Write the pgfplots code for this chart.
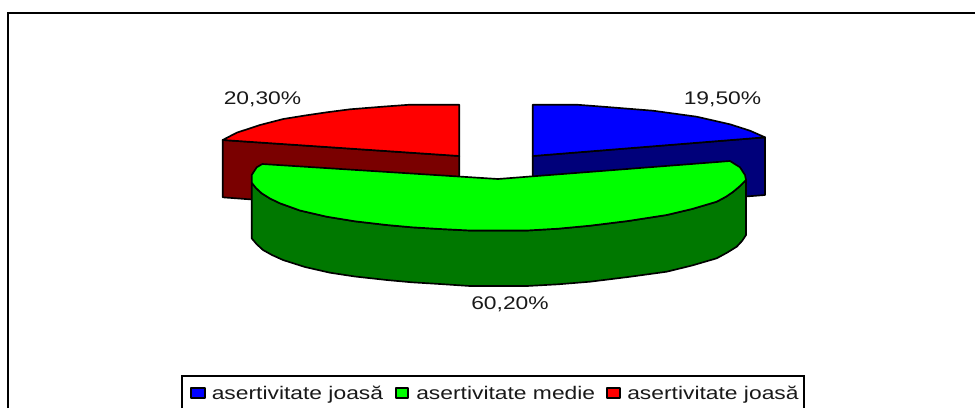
\documentclass[border=0pt]{standalone}
\usepackage{fontspec}
\setmainfont{Liberation Sans}
\usepackage{pgfplots}
\pgfplotsset{compat=1.18}
\definecolor{darkred}{HTML}{7A0000}
\definecolor{darkblue}{HTML}{00007A}
\definecolor{darkgreen}{HTML}{007800}
% Labels are set wide, as on a slide stretched sideways
\newcommand\wide[1]{\scalebox{1.25}[1]{#1}}
\tikzset{
  pie/.style={draw=black, line width=1.25pt, line join=round},
  lab/.style={anchor=base west, inner sep=0pt, text=black!90, font=\fontsize{13.7pt}{15pt}\selectfont},
}
\begin{document}
\begin{tikzpicture}
\useasboundingbox (0,0) rectangle (731.25pt,306pt);
\begin{axis}[
  at={(0,0)}, anchor=south west,
  scale only axis, width=731.25pt, height=306pt,
  xmin=0, xmax=975, ymin=0, ymax=408, y dir=reverse,
  hide axis,
]
% chart frame: top and left edges
\addplot[black, line width=1.5pt] coordinates {(8,408) (8,13) (975,13)};

% red sector, 20,30%
\addplot[pie, fill=darkred] coordinates {(222.7,140) (459.3,156) (459.3,215) (222.7,197.3)} -- cycle;
\addplot[pie, fill=red] coordinates {(459.3,156) (459.3,104.7) (410,104.7) (385,106.5) (350,109.3) (326.7,112.3) (305,115.5) (283.3,119) (260,125) (236.7,132.7) (222.7,140)} -- cycle;

% blue sector, 19,50%
\addplot[pie, fill=darkblue] coordinates {(532.7,156) (765,137.3) (765,195) (532.7,213)} -- cycle;
\addplot[pie, fill=blue] coordinates {(532.7,156) (532.7,104.7) (576.7,104.7) (603,106.7) (653,110.7) (696.7,116.7) (730,124.3) (750,130.7) (765,137.3)} -- cycle;

% green sector, 60,20%: rim first, then the top face
\addplot[pie, fill=darkgreen] coordinates {(251.7,182.7) (256,188) (261.7,193.3) (270,198.5) (280,203.3) (300,210.5) (326.7,216.7) (355,221.3) (386.7,225) (412,227.3) (440,229) (470,230.5) (527,230.5) (558,228.7) (590,225.7) (628,221) (666.7,215) (692,209) (716.7,201.7) (726,196.7) (733.3,191.7) (740,186) (746,180) (746,235) (742,241) (736.7,246.7) (727,252.7) (716.7,258.3) (692,265.5) (666.7,271.7) (628,277) (590,281.7) (558,284.3) (527,286) (470,286) (440,284) (412,282.3) (386.7,280) (355,276.5) (330,272.7) (305,267) (283,260) (272,255) (263,250) (256.5,244) (251.7,238.3)} -- cycle;
\addplot[pie, fill=green] coordinates {(262.3,164) (498,179) (730,161) (740,167.3) (745,175) (746,180) (740,186) (733.3,191.7) (726,196.7) (716.7,201.7) (692,209) (666.7,215) (628,221) (590,225.7) (558,228.7) (527,230.5) (470,230.5) (440,229) (412,227.3) (386.7,225) (355,221.3) (326.7,216.7) (300,210.5) (280,203.3) (270,198.5) (261.7,193.3) (256,188) (251.7,182.7) (251.7,175) (256.7,167.3)} -- cycle;

% value labels
\node[lab] at (axis cs:223.5,104) {\wide{20,30\%}};
\node[lab] at (axis cs:683.5,104) {\wide{19,50\%}};
\node[lab] at (axis cs:471,309) {\wide{60,20\%}};

% legend box, open at the lower edge of the page
\addplot[black, line width=1.1pt] coordinates {(182,408) (182,376) (804,376) (804,408)};
\addplot[pie, line width=0.8pt, fill=blue] coordinates {(191,388) (205,388) (205,398) (191,398)} -- cycle;
\addplot[pie, line width=0.8pt, fill=green] coordinates {(396,388) (408,388) (408,398) (396,398)} -- cycle;
\addplot[pie, line width=0.8pt, fill=red] coordinates {(607,388) (620,388) (620,398) (607,398)} -- cycle;
\node[lab] at (axis cs:211.5,399) {\wide{asertivitate joasă}};
\node[lab] at (axis cs:416,399) {\wide{asertivitate medie}};
\node[lab] at (axis cs:627,399) {\wide{asertivitate joasă}};
\end{axis}
\end{tikzpicture}
\end{document}
